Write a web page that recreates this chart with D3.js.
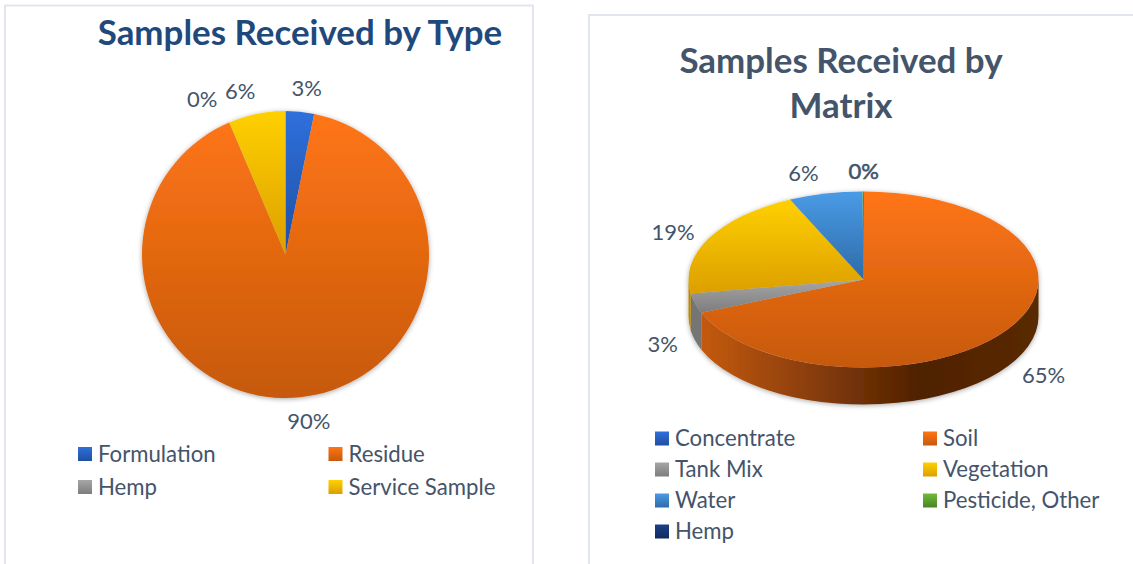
<!DOCTYPE html>
<html>
<head>
<meta charset="utf-8">
<script src="https://cdn.jsdelivr.net/npm/d3@7"></script>
<style>
	html, body { margin: 0; padding: 0; background: #fff; }
	svg { display: block; }
	text { font-family: Lato, "Open Sans", sans-serif; fill: #44546a; }
	.title { font-weight: 700; }
</style>
</head>
<body>
<div id="chart"></div>
<script>
var typeCategories = ['Formulation', 'Residue', 'Hemp', 'Service Sample'],
	typeValues = [3.2, 90.3, 0.01, 6.4],
	typeColors = ['blue', 'orange', 'gray', 'yellow'];

var matrixCategories = ['Concentrate', 'Soil', 'Tank Mix', 'Vegetation', 'Water', 'Pesticide, Other', 'Hemp'],
	matrixValues = [0.04, 64.7, 3.4, 19.4, 6.4, 0.04, 0.04],
	matrixColors = ['blue', 'orange', 'gray', 'yellow', 'sky', 'green', 'navy'];

var shades = {
	blue   : ['#2f70dc', '#1f4fa2'],
	orange : ['#ff7514', '#c6590e'],
	gray   : ['#a6a6a6', '#7d7d7d'],
	yellow : ['#ffd000', '#dc9f00'],
	sky    : ['#4a9be6', '#2e6ba8'],
	green  : ['#6fbb38', '#4a8426'],
	navy   : ['#1c4088', '#102a60']
};

var width = 1133, height = 564;

var svg = d3.select('#chart').append('svg')
	.attr('width', width)
	.attr('height', height);

var defs = svg.append('defs');

Object.keys(shades).forEach(function (name) {
	var grad = defs.append('linearGradient')
		.attr('id', 'grad-' + name)
		.attr('x1', 0).attr('y1', 0).attr('x2', 0).attr('y2', 1);
	grad.append('stop').attr('offset', '0%').attr('stop-color', shades[name][0]);
	grad.append('stop').attr('offset', '100%').attr('stop-color', shades[name][1]);
});

// side wall of the 3d pie goes dark towards the right
var sideGrad = defs.append('linearGradient')
	.attr('id', 'grad-side')
	.attr('gradientUnits', 'userSpaceOnUse')
	.attr('x1', 701).attr('y1', 0).attr('x2', 1039).attr('y2', 0);
sideGrad.append('stop').attr('offset', '0%').attr('stop-color', '#c45a10');
sideGrad.append('stop').attr('offset', '65%').attr('stop-color', '#4f2103');
sideGrad.append('stop').attr('offset', '100%').attr('stop-color', '#5a2a04');

var shadow = defs.append('filter')
	.attr('id', 'soft')
	.attr('x', '-10%').attr('y', '-10%').attr('width', '120%').attr('height', '120%');
shadow.append('feDropShadow')
	.attr('dx', 0).attr('dy', 1)
	.attr('stdDeviation', 2.5)
	.attr('flood-color', '#000')
	.attr('flood-opacity', 0.35);

// PANELS
function panel(x, y, w, h) {
	svg.append('rect')
		.attr('x', x).attr('y', y)
		.attr('width', w).attr('height', h)
		.attr('fill', '#fff')
		.attr('stroke', '#e1e6ee')
		.attr('stroke-width', 2);
}
panel(5, 5.5, 528, 570);
panel(589, 15, 560, 560);

function title(lines, x, y, size, lineHeight, color) {
	lines.forEach(function (line, i) {
		svg.append('text')
			.attr('class', 'title')
			.attr('x', x)
			.attr('y', y + i * lineHeight)
			.attr('text-anchor', 'middle')
			.attr('font-size', size)
			.style('fill', color)
			.text(line);
	});
}

function legend(categories, colors, x, y, colGap, rowGap) {
	var items = svg.append('g').selectAll('g')
		.data(categories)
		.enter().append('g')
		.attr('transform', function (d, i) {
			return 'translate(' + (x + (i % 2) * colGap) + ',' + (y + Math.floor(i / 2) * rowGap) + ')';
		});
	items.append('rect')
		.attr('x', 0).attr('y', -7)
		.attr('width', 14).attr('height', 14)
		.attr('fill', function (d, i) { return 'url(#grad-' + colors[i] + ')'; });
	items.append('text')
		.attr('x', 20)
		.attr('dy', '0.35em')
		.attr('font-size', 22.2)
		.text(function (d) { return d; });
}

function percent(v) { return Math.round(v) + '%'; }

var pie = d3.pie().sort(null).value(function (d) { return d; });

/* FLAT PIE */
var flat = { cx: 285.5, cy: 254.5, r: 143.5 },
	flatNudge = [[5, -6], [7, 6], [-20, -7], [-13, -5]];

title(['Samples Received by Type'], 300, 45, 34.9, 0, '#1f497d');

var flatArc = d3.arc().innerRadius(0).outerRadius(flat.r),
	flatG = svg.append('g')
		.attr('transform', 'translate(' + flat.cx + ',' + flat.cy + ')');

flatG.append('g').attr('filter', 'url(#soft)')
	.selectAll('path')
	.data(pie(typeValues))
	.enter().append('path')
	.attr('d', flatArc)
	.attr('fill', function (d, i) { return 'url(#grad-' + typeColors[i] + ')'; });

flatG.selectAll('text')
	.data(pie(typeValues))
	.enter().append('text')
	.attr('text-anchor', 'middle')
	.attr('dy', '0.35em')
	.attr('font-size', 22)
	.attr('x', function (d, i) {
		return Math.sin((d.startAngle + d.endAngle) / 2) * (flat.r + 18) + flatNudge[i][0];
	})
	.attr('y', function (d, i) {
		return -Math.cos((d.startAngle + d.endAngle) / 2) * (flat.r + 18) + flatNudge[i][1];
	})
	.text(function (d) { return percent(d.value); });

legend(typeCategories, typeColors, 78, 454, 250.5, 33);

/* 3D PIE */
var tilted = { cx: 863.5, cy: 279.5, rx: 175, ry: 88, depth: 37 },
	tiltedNudge = [[0, -2.5], [20, 36], [-15, 36], [-20, 3], [-18, -3]];

title(['Samples Received by', 'Matrix'], 841, 73, 34.9, 45, '#44546a');

function rimX(a) { return tilted.cx + tilted.rx * Math.sin(a); }
function rimY(a) { return tilted.cy - tilted.ry * Math.cos(a); }

function topPath(d) {
	var large = d.endAngle - d.startAngle > Math.PI ? 1 : 0;
	return 'M' + tilted.cx + ',' + tilted.cy +
		'L' + rimX(d.startAngle) + ',' + rimY(d.startAngle) +
		'A' + tilted.rx + ',' + tilted.ry + ' 0 ' + large + ' 1 ' + rimX(d.endAngle) + ',' + rimY(d.endAngle) + 'Z';
}

// only the part of the rim facing us (pi/2 .. 3pi/2) gets a wall
function sidePath(d) {
	var a0 = Math.max(d.startAngle, Math.PI / 2),
		a1 = Math.min(d.endAngle, Math.PI * 3 / 2);
	if (a1 <= a0) return null;
	return 'M' + rimX(a0) + ',' + rimY(a0) +
		'A' + tilted.rx + ',' + tilted.ry + ' 0 0 1 ' + rimX(a1) + ',' + rimY(a1) +
		'L' + rimX(a1) + ',' + (rimY(a1) + tilted.depth) +
		'A' + tilted.rx + ',' + tilted.ry + ' 0 0 0 ' + rimX(a0) + ',' + (rimY(a0) + tilted.depth) + 'Z';
}

var sideFill = { orange: 'url(#grad-side)', gray: '#757575', yellow: '#b98a00' };

var tiltedG = svg.append('g').attr('filter', 'url(#soft)'),
	matrixPie = pie(matrixValues);

tiltedG.selectAll('path.side')
	.data(matrixPie.filter(function (d) { return sidePath(d) !== null; }))
	.enter().append('path')
	.attr('class', 'side')
	.attr('d', sidePath)
	.attr('fill', function (d) { return sideFill[matrixColors[d.index]] || '#555'; });

tiltedG.selectAll('path.top')
	.data(matrixPie)
	.enter().append('path')
	.attr('class', 'top')
	.attr('d', topPath)
	.attr('fill', function (d, i) { return 'url(#grad-' + matrixColors[i] + ')'; });

// the three empty slices all sit at 12 o'clock and share one heavier label
svg.append('g').selectAll('text')
	.data(matrixPie.filter(function (d) { return d.index < 5; }))
	.enter().append('text')
	.attr('text-anchor', 'middle')
	.attr('dy', '0.35em')
	.attr('font-size', 22)
	.style('stroke', function (d) { return d.index === 0 ? '#44546a' : 'none'; })
	.style('stroke-width', 0.6)
	.attr('x', function (d) {
		return tilted.cx + (tilted.rx + 18) * Math.sin((d.startAngle + d.endAngle) / 2) + tiltedNudge[d.index][0];
	})
	.attr('y', function (d) {
		return tilted.cy - (tilted.ry + 18) * Math.cos((d.startAngle + d.endAngle) / 2) + tiltedNudge[d.index][1];
	})
	.text(function (d) { return percent(d.value); });

legend(matrixCategories, matrixColors, 655, 438.5, 268, 31);
</script>
</body>
</html>
